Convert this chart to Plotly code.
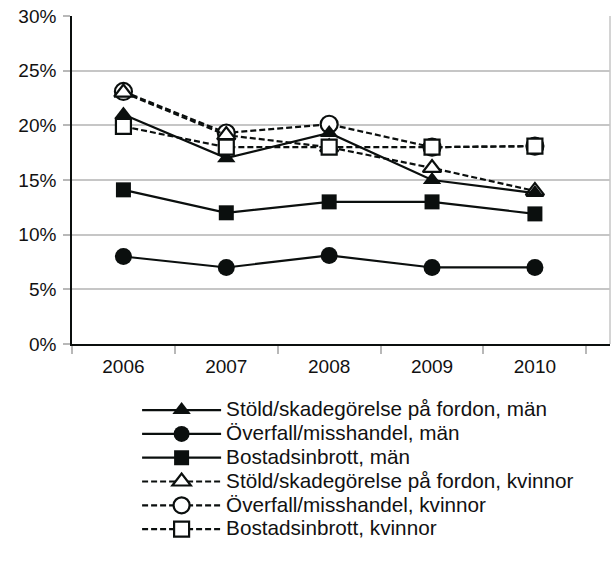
import plotly.graph_objects as go

# Survey years
years = ["2006", "2007", "2008", "2009", "2010"]

# Share of respondents (%) per crime type and sex
stold_man = [21.0, 17.0, 19.3, 15.0, 13.8]
overfall_man = [8.0, 7.0, 8.1, 7.0, 7.0]
bostad_man = [14.1, 12.0, 13.0, 13.0, 11.9]
stold_kvinnor = [23.0, 19.1, 18.0, 16.1, 14.0]
overfall_kvinnor = [23.1, 19.3, 20.1, 18.0, 18.1]
bostad_kvinnor = [19.9, 18.0, 18.0, 18.0, 18.1]

y_ticks = [0, 5, 10, 15, 20, 25, 30]
y_tick_labels = ["0%", "5%", "10%", "15%", "20%", "25%", "30%"]

INK = "#0b0f0e"
GRID = "#c6c6c6"
FONT = "Liberation Sans, Arial, Helvetica, sans-serif"


def label(text):
    return f'<span style="font-size:20.7px">{text}</span>'


def series(name, values, symbol, filled, dashed, size, rank):
    return go.Scatter(
        x=years,
        y=values,
        name=label(name),
        mode="lines+markers",
        legendrank=rank,
        line=dict(color=INK, width=2.2,
                  dash="6px,3px" if dashed else "solid"),
        marker=dict(
            symbol=symbol,
            size=size,
            color=INK if filled else "white",
            line=dict(color=INK, width=0 if filled else 2.2),
        ),
        hoverinfo="skip",
    )


fig = go.Figure()
# drawing order chosen so overlapping markers stack as in the print layout
fig.add_trace(series("Överfall/misshandel, kvinnor", overfall_kvinnor, "circle", False, True, 17, 5))
fig.add_trace(series("Stöld/skadegörelse på fordon, kvinnor", stold_kvinnor, "triangle-up", False, True, 16, 4))
fig.add_trace(series("Stöld/skadegörelse på fordon, män", stold_man, "triangle-up", True, False, 16, 1))
fig.add_trace(series("Överfall/misshandel, män", overfall_man, "circle", True, False, 17, 2))
fig.add_trace(series("Bostadsinbrott, män", bostad_man, "square", True, False, 15, 3))
fig.add_trace(series("Bostadsinbrott, kvinnor", bostad_kvinnor, "square", False, True, 15, 6))

fig.update_layout(
    width=611,
    height=565,
    margin=dict(l=72, r=1, t=16, b=221),
    paper_bgcolor="white",
    plot_bgcolor="white",
    font=dict(family=FONT, color="#111111", size=19),
    showlegend=True,
    legend=dict(
        orientation="v",
        x=0.121,
        xanchor="left",
        y=-0.15,
        yanchor="top",
        font=dict(family=FONT, size=16, color="#111111"),
        itemwidth=79,
        bgcolor="rgba(0,0,0,0)",
        traceorder="normal",
    ),
    xaxis=dict(
        type="category",
        range=[-0.5, 4.73],
        tickson="boundaries",
        ticks="outside",
        ticklen=8,
        tickwidth=1.5,
        tickcolor="#b8b8b8",
        ticklabelstandoff=4,
        showline=True,
        linecolor=INK,
        linewidth=1.6,
        showgrid=False,
        zeroline=False,
        tickfont=dict(size=19),
    ),
    yaxis=dict(
        range=[0, 30],
        tickmode="array",
        tickvals=y_ticks,
        ticktext=y_tick_labels,
        ticks="outside",
        ticklen=7,
        tickwidth=1.5,
        tickcolor="#b8b8b8",
        ticklabelstandoff=3,
        showline=True,
        linecolor=INK,
        linewidth=1.6,
        showgrid=True,
        gridcolor=GRID,
        gridwidth=1.5,
        zeroline=False,
        tickfont=dict(size=19),
    ),
    shapes=[
        dict(type="line", xref="paper", yref="paper", x0=1, x1=1, y0=0, y1=1,
             line=dict(color=GRID, width=1.5)),
    ],
)

fig.write_html("out.html")
